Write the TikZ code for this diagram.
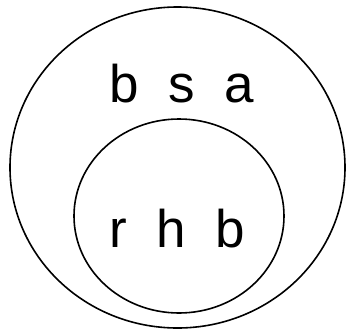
\documentclass[tikz,border=0pt]{standalone}
\usepackage{fontspec}
\setmainfont{Liberation Sans}
\usetikzlibrary{shapes.geometric}
\begin{document}
\begin{tikzpicture}[x=1pt,y=-1pt,
  ring/.style={draw=black,line width=1.6pt,ellipse,inner sep=0pt},
  lbl/.style={inner sep=0pt,anchor=base,font=\fontsize{53}{60}\selectfont}]
\useasboundingbox (0,0) rectangle (346,330);
\node[ring,minimum width=335pt,minimum height=321pt] (outer) at (177.5,167.5) {};
\node[ring,minimum width=210pt,minimum height=194pt] (inner) at (179,216) {};
\node[lbl] (t1) at (182,102) {b\ \ s\ \ a};
\node[lbl] (t2) at (177,247) {r\ \ h\ \ b};
\end{tikzpicture}
\end{document}
